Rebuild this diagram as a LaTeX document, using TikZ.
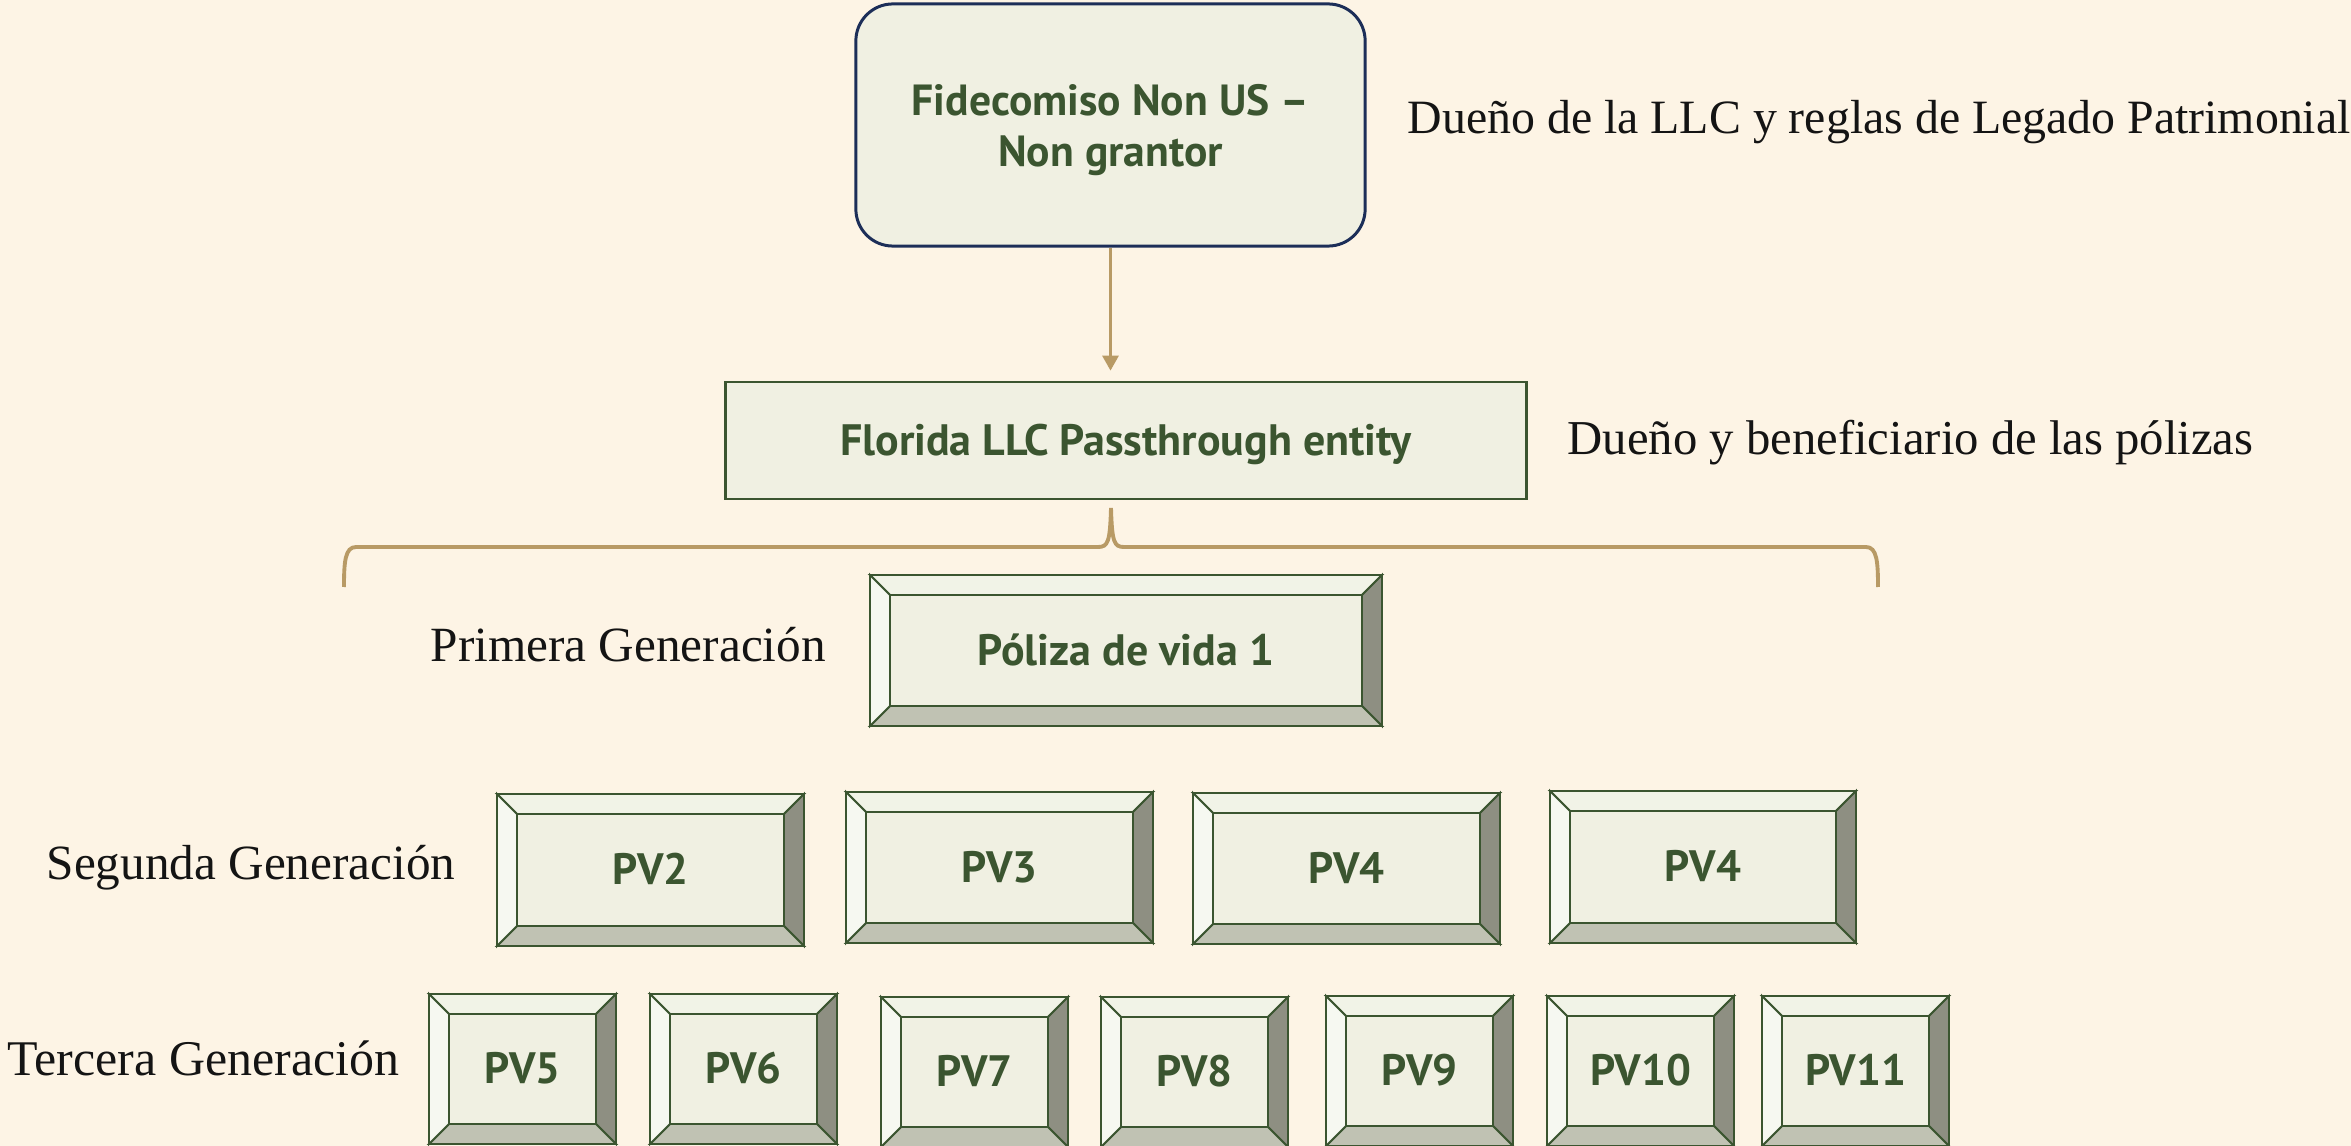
\documentclass[tikz,border=0pt]{standalone}
\usepackage{fontspec}
\setmainfont{Liberation Serif}
\newfontfamily\boxfont{PT Sans}
\usetikzlibrary{arrows.meta}
\definecolor{bg}{HTML}{FDF4E5}
\definecolor{boxfill}{HTML}{F0F0E2}
\definecolor{dgreen}{HTML}{3B5530}
\definecolor{navy}{HTML}{1C2E58}
\definecolor{tanc}{HTML}{B89A65}
\definecolor{bvtop}{HTML}{F1F3E7}
\definecolor{bvleft}{HTML}{F6F8F1}
\definecolor{bvright}{HTML}{8E8F82}
\definecolor{bvbot}{HTML}{C0C2B3}
\tikzset{
  boxtext/.style={font=\boxfont\bfseries\fontsize{12.5}{14.5}\selectfont, text=dgreen, align=center, inner sep=0pt},
  captext/.style={boxtext, text height=0.84em, text depth=0pt},
  lbl/.style={font=\fontsize{14}{16}\selectfont, text=black!92, anchor=base west, inner sep=0pt},
  facet/.style={draw=dgreen, line width=0.55pt, line join=miter},
  outer/.style={draw=dgreen, line width=0.75pt},
  tanline/.style={draw=tanc, line width=0.85pt},
}
\newcommand\bvbox[6]{%
  \filldraw[facet, fill=bvtop] (#2,#3) -- (#4,#3) -- ({#4-20},{#3+20}) -- ({#2+20},{#3+20}) -- cycle;
  \filldraw[facet, fill=bvright] (#4,#3) -- (#4,#5) -- ({#4-20},{#5-20}) -- ({#4-20},{#3+20}) -- cycle;
  \filldraw[facet, fill=bvbot] (#2,#5) -- (#4,#5) -- ({#4-20},{#5-20}) -- ({#2+20},{#5-20}) -- cycle;
  \filldraw[facet, fill=bvleft] (#2,#3) -- (#2,#5) -- ({#2+20},{#5-20}) -- ({#2+20},{#3+20}) -- cycle;
  \filldraw[facet, fill=boxfill] ({#2+20},{#3+20}) rectangle ({#4-20},{#5-20});
  \node[captext, outer, minimum width={(#4-#2)*0.01cm}, minimum height={(#5-#3)*0.01cm}] (#1) at ({(#2+#4)/2},{(#3+#5)/2}) {#6};
}
\begin{document}
\begin{tikzpicture}[x=0.01cm, y=-0.01cm]
\fill[bg] (0,0) rectangle (2351,1146);
\useasboundingbox (0,0) rectangle (2351,1146);

% top box
\node[boxtext, font=\boxfont\bfseries\fontsize{12.4}{14.5}\selectfont, draw=navy, line width=0.85pt, fill=boxfill, rounded corners=0.37cm,
      minimum width=5.09cm, minimum height=2.42cm] (trust) at (1110.5,125) {\rule{0pt}{12pt}Fidecomiso Non US –\\Non grantor};
% LLC box
\node[captext, draw=dgreen, line width=0.75pt, fill=boxfill,
      minimum width=8.0cm, minimum height=1.17cm] (llc) at (1126,440.5) {Florida LLC Passthrough entity};

\draw[tanline, -{Triangle[length=0.15cm,width=0.16cm]}, shorten >=0.1cm] (trust.south) -- (trust.south |- llc.north);

% brace
\coordinate (bt) at (1111,508);
\draw[draw=tanc, line width=1.1pt]
  (344,587) .. controls (344,562) and (345,547) .. (356,547) -- (1098,547)
  .. controls (1108,547) and (1110,542) .. (bt)
  .. controls (1112,542) and (1114,547) .. (1124,547) -- (1866,547)
  .. controls (1877,547) and (1878,562) .. (1878,587);

% labels
\node[lbl, font=\fontsize{13.6}{16}\selectfont] (l1) at (1407,134) {Dueño de la LLC y reglas de Legado Patrimonial};
\node[lbl, font=\fontsize{13.85}{16}\selectfont] (l2) at (1567,455) {Dueño y beneficiario de las pólizas};
\node[lbl] (l3) at (430,661) {Primera Generación};
\node[lbl] (l4) at (46,879) {Segunda Generación};
\node[lbl, font=\fontsize{14.2}{16}\selectfont] (l5) at (7,1075) {Tercera Generación};

% generation 1
\bvbox{pv1}{870}{575}{1382}{726}{Póliza de vida 1}
% generation 2
\bvbox{pv2}{497}{794}{804}{946}{PV2}
\bvbox{pv3}{846}{792}{1153}{943}{PV3}
\bvbox{pv4}{1193}{793}{1500}{944}{PV4}
\bvbox{pv4b}{1550}{791}{1856}{943}{PV4}
% generation 3
\bvbox{pv5}{429}{994}{616}{1144}{PV5}
\bvbox{pv6}{650}{994}{837}{1144}{PV6}
\bvbox{pv7}{881}{997}{1068}{1147}{PV7}
\bvbox{pv8}{1101}{997}{1288}{1147}{PV8}
\bvbox{pv9}{1326}{996}{1513}{1146}{PV9}
\bvbox{pv10}{1547}{996}{1734}{1146}{PV10}
\bvbox{pv11}{1762}{996}{1949}{1146}{PV11}
\end{tikzpicture}
\end{document}
